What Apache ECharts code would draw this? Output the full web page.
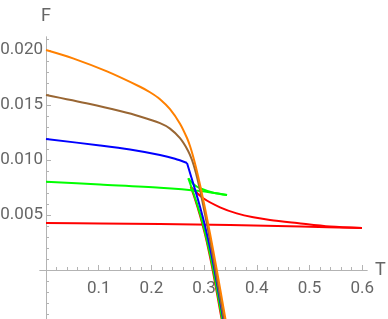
<!DOCTYPE html>
<html>
<head>
<meta charset="utf-8">
<script src="https://cdn.jsdelivr.net/npm/echarts@6/dist/echarts.min.js"></script>
<style>
html,body{margin:0;padding:0;background:#fff;}
#c{width:388px;height:319px;}
</style>
</head>
<body>
<div id="c"></div>
<script>
// ---- data: [T, F] ----
var orange = [[0,0.0200],[0.05123,0.01924],[0.11575,0.01805],[0.17837,0.01666],[0.19734,0.01616],[0.21632,0.01553],[0.23529,0.01462],[0.25427,0.01330],[0.26755,0.01200],[0.27324,0.01127],[0.27894,0.01036],[0.28463,0.00931],[0.29222,0.00775],[0.30171,0.00561],[0.31120,0.00332],[0.32353,0.00015],[0.33966,-0.00425],[0.34156,-0.00473]];
var brown = [[0,0.01591],[0.08349,0.01509],[0.14042,0.01445],[0.17837,0.01396],[0.21632,0.01335],[0.23529,0.01285],[0.25427,0.01198],[0.26945,0.01085],[0.27704,0.01000],[0.28463,0.00880],[0.29222,0.00727],[0.30171,0.00506],[0.31120,0.00268],[0.32258,-0.00032],[0.33871,-0.00480]];
var blueSmall = [[0,0.01191],[0.10247,0.01132],[0.15939,0.01095],[0.21632,0.01045],[0.24478,0.01011],[0.26755,0.00973]];
var blueLarge = [[0.26755,0.00973],[0.28273,0.00733],[0.29222,0.00574],[0.30171,0.00401],[0.3112,0.00205],[0.31973,0.00003],[0.33586,-0.0043],[0.337,-0.00462]];
var greenSmall = [[0,0.00803],[0.1025,0.00777],[0.2163,0.00748],[0.2922,0.00718],[0.3435,0.00682]];
var greenMid = [[0.3435,0.00682],[0.3175,0.00703],[0.2922,0.00743],[0.2800,0.0078],[0.2700,0.00834]];
var greenLarge = [[0.27002,0.00834],[0.28273,0.00657],[0.29222,0.00512],[0.30171,0.00344],[0.3112,0.00145],[0.31784,-0.00012],[0.33397,-0.00436],[0.33491,-0.00464]];
var redSmall = [[0,0.00427],[0.1025,0.00423],[0.2163,0.00418],[0.3494,0.00409],[0.4839,0.00395],[0.5996,0.00382]];
var redMid = [[0.5996,0.00382],[0.5389,0.00395],[0.4763,0.00427],[0.4250,0.00455],[0.3934,0.00479],[0.3619,0.00515],[0.3302,0.0057],[0.2985,0.00652],[0.2746,0.00757]];
var redLarge = [[0.27457,0.00757],[0.28273,0.00644],[0.29222,0.00496],[0.30171,0.00324],[0.3093,0.00164],[0.31689,-0.00016],[0.33302,-0.00442],[0.33397,-0.00468]];

var xMajor = [0.1,0.2,0.3,0.4,0.5,0.6];
var xMajorLabels = ['0.1','0.2','0.3','0.4','0.5','0.6'];
var xMinor = [0.02,0.04,0.06,0.08,0.12,0.14,0.16,0.18,0.22,0.24,0.26,0.28,0.32,0.34,0.36,0.38,0.42,0.44,0.46,0.48,0.52,0.54,0.56,0.58];
var yMajor = [0.005,0.010,0.015,0.020];
var yMajorLabels = ['0.005','0.010','0.015','0.020'];
var yMinor = [-0.004,-0.003,-0.002,-0.001,0.001,0.002,0.003,0.004,0.006,0.007,0.008,0.009,0.011,0.012,0.013,0.014,0.016,0.017,0.018,0.019,0.021];

var colors = {orange:'#ff8000', brown:'#996633', blue:'#0000ff', green:'#00ff00', red:'#ff0000'};

var axisGray = '#b3b3b3';
var labelGray = '#666666';
var FONT = 'Roboto';

function mkX(major) {
  return {
    type:'value', min:-0.01139, max:0.6091, position:'bottom', offset:-49,
    axisLine:{show:true, onZero:false, lineStyle:{color:axisGray,width:1}},
    axisTick:{show:true, inside:true, length: major?5:3, customValues: major?xMajor:xMinor, lineStyle:{color:axisGray}},
    axisLabel:{show:major, customValues: xMajor, color:labelGray, fontSize:17, fontFamily:FONT, margin:10,
      formatter:function(v){ for (var i=0;i<xMajor.length;i++){ if (Math.abs(xMajor[i]-v)<1e-9) return xMajorLabels[i]; } return ''; }},
    splitLine:{show:false},
    name: major?'T':'', nameLocation:'end', nameGap:8,
    nameTextStyle:{color:labelGray, fontSize:18, fontFamily:FONT, verticalAlign:'middle'}
  };
}
function mkY(major) {
  return {
    type:'value', min:-0.004455, max:0.021182, position:'left', offset:-6,
    axisLine:{show:true, onZero:false, lineStyle:{color:axisGray,width:1}},
    axisTick:{show:true, inside:true, length: major?5:3, customValues: major?yMajor:yMinor, lineStyle:{color:axisGray}},
    axisLabel:{show:major, customValues: yMajor, color:labelGray, fontSize:17, fontFamily:FONT, margin:3,
      formatter:function(v){ for (var i=0;i<yMajor.length;i++){ if (Math.abs(yMajor[i]-v)<1e-9) return yMajorLabels[i]; } return ''; }},
    splitLine:{show:false},
    name: major?'F':'', nameLocation:'end', nameGap:12,
    nameTextStyle:{color:labelGray, fontSize:18, fontFamily:FONT, align:'center'}
  };
}

function line(data, color) {
  return {type:'line', data:data, xAxisIndex:0, yAxisIndex:0, showSymbol:false, symbol:'none',
    smooth:0.3, lineStyle:{color:color, width:2}, clip:true, animation:false, silent:true};
}

var chart = echarts.init(document.getElementById('c'), null, {renderer:'canvas'});
chart.setOption({
  animation:false,
  backgroundColor:'#ffffff',
  grid:{left:40, right:21, top:37, bottom:0, containLabel:false, outerBoundsMode:'none'},
  xAxis:[mkX(true), mkX(false)],
  yAxis:[mkY(true), mkY(false)],
  series:[
    line(redSmall, colors.red), line(redMid, colors.red), line(redLarge, colors.red),
    line(greenSmall, colors.green), line(greenMid, colors.green), line(greenLarge, colors.green),
    line(blueSmall, colors.blue), line(blueLarge, colors.blue),
    line(brown, colors.brown),
    line(orange, colors.orange)
  ]
});
</script>
</body>
</html>
